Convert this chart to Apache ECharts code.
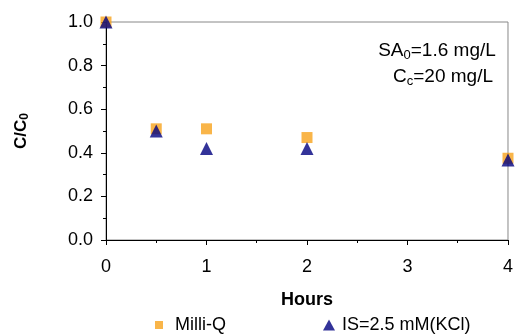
<!DOCTYPE html>
<html><head><meta charset="utf-8">
<script src="https://cdn.jsdelivr.net/npm/echarts@6/dist/echarts.min.js"></script>
<style>html,body{margin:0;padding:0;background:#fff}#c{width:516px;height:335px}</style>
</head><body><div id="c"></div>
<script>
const hours = [0, 0.5, 1, 2, 4];
const milliQ = [1.0, 0.51, 0.51, 0.47, 0.375];
const isKCl = [1.0, 0.50, 0.42, 0.42, 0.367];
const seriesNames = ['Milli-Q', 'IS=2.5 mM(KCl)'];
const FONT = 'Liberation Sans, Arial, sans-serif';

const subRich = (size, sub) => ({
  a: { fontFamily: FONT, fontSize: size, color: '#000', lineHeight: size + 4 },
  s: { fontFamily: FONT, fontSize: sub, color: '#000', lineHeight: size + 4, padding: [Math.round(size * 0.45), 0, 0, 0] }
});

const chart = echarts.init(document.getElementById('c'));
chart.setOption({
  animation: false,
  textStyle: { fontFamily: FONT },
  grid: { left: 106, right: 5, top: 22, bottom: 95, show: true, borderColor: '#888', borderWidth: 1 },
  xAxis: {
    type: 'value', min: 0, max: 4, interval: 1,
    name: 'Hours', nameLocation: 'middle', nameGap: 51,
    nameTextStyle: { fontFamily: FONT, fontWeight: 'bold', fontSize: 18, color: '#000' },
    axisLine: { show: true, onZero: false, lineStyle: { color: '#000', width: 1 } },
    axisTick: { show: true, inside: false, length: 5, lineStyle: { color: '#000' } },
    minorTick: { show: true, splitNumber: 2, length: 3, lineStyle: { color: '#000' } },
    axisLabel: { fontSize: 18, color: '#000', margin: 18, fontFamily: FONT },
    splitLine: { show: false }
  },
  yAxis: {
    type: 'value', min: 0, max: 1, interval: 0.2,
    name: '{a|C/C}{s|0}', nameLocation: 'middle', nameGap: 75, nameRotate: 90,
    nameTextStyle: { rich: {
      a: { fontFamily: FONT, fontWeight: 'bold', fontSize: 17, color: '#000' },
      s: { fontFamily: FONT, fontWeight: 'bold', fontSize: 12, color: '#000', padding: [8, 0, 0, 0] }
    } },
    axisLine: { show: true, onZero: false, lineStyle: { color: '#000', width: 1 } },
    axisTick: { show: true, inside: false, length: 5, lineStyle: { color: '#000' } },
    minorTick: { show: true, splitNumber: 2, length: 3, lineStyle: { color: '#000' } },
    axisLabel: { fontSize: 18, color: '#000', margin: 13, fontFamily: FONT, formatter: v => v.toFixed(1) },
    splitLine: { show: false }
  },
  legend: [
    { top: 311, left: 150, itemWidth: 8, itemHeight: 8,
      textStyle: { fontSize: 18, color: '#000', fontFamily: FONT, padding: [0, 0, 0, 7] },
      data: [{ name: seriesNames[0], icon: 'rect' }] },
    { top: 311, left: 318, itemWidth: 12, itemHeight: 11,
      textStyle: { fontSize: 18, color: '#000', fontFamily: FONT, padding: [0, 0, 0, 2] },
      data: [{ name: seriesNames[1], icon: 'triangle' }] }
  ],
  graphic: [
    { type: 'text', x: 437, y: 51, style: {
      text: '{a|SA}{s|0}{a|=1.6 mg/L}', align: 'center', verticalAlign: 'middle', rich: subRich(19, 13) } },
    { type: 'text', x: 443, y: 77, style: {
      text: '{a|C}{s|c}{a|=20 mg/L}', align: 'center', verticalAlign: 'middle', rich: subRich(19, 13) } }
  ],
  series: [
    { name: seriesNames[0], type: 'scatter', symbol: 'rect', symbolSize: 11,
      itemStyle: { color: '#F7A21B' }, data: hours.map((h, i) => [h, milliQ[i]]), z: 2, clip: false },
    { name: seriesNames[1], type: 'scatter', symbol: 'triangle', symbolSize: 13,
      itemStyle: { color: '#00007F' }, data: hours.map((h, i) => [h, isKCl[i]]), z: 3, clip: false }
  ]
});
</script></body></html>
